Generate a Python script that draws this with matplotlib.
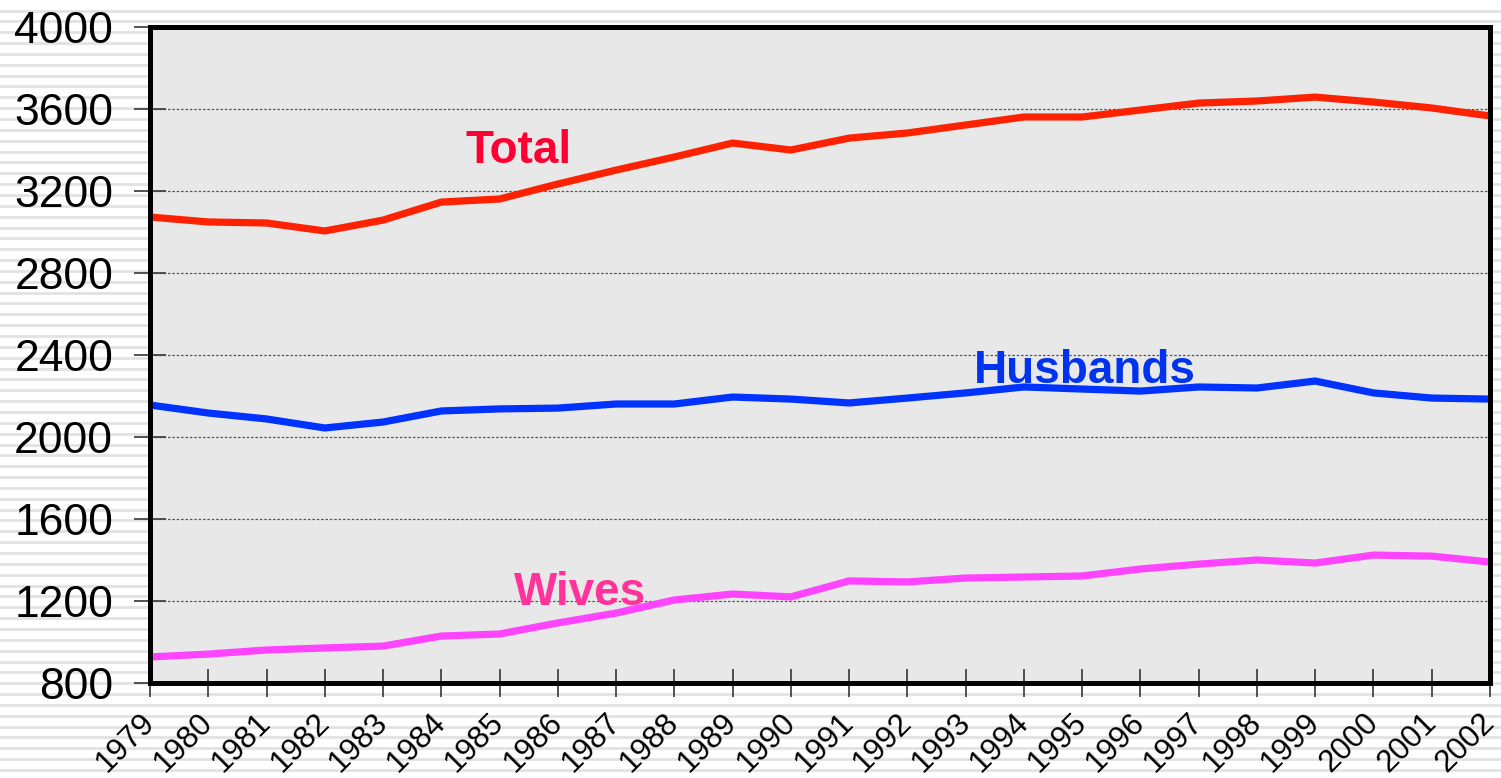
import numpy as np
import matplotlib.pyplot as plt
import matplotlib.transforms as mtransforms
from matplotlib.lines import Line2D

# data
years = list(range(1979, 2003))
total = [3073, 3049, 3044, 3005, 3058, 3146, 3161, 3234, 3302, 3366, 3434, 3400,
         3458, 3483, 3522, 3561, 3561, 3595, 3629, 3639, 3658, 3634, 3605, 3566]
husbands = [2156, 2117, 2088, 2044, 2073, 2127, 2137, 2141, 2161, 2161, 2195, 2185,
            2166, 2190, 2215, 2244, 2234, 2224, 2244, 2239, 2273, 2215, 2190, 2185]
wives = [927, 941, 961, 971, 980, 1029, 1039, 1093, 1141, 1205, 1234, 1220,
         1298, 1293, 1312, 1317, 1322, 1356, 1380, 1400, 1385, 1424, 1419, 1390]
y_ticks = [800, 1200, 1600, 2000, 2400, 2800, 3200, 3600, 4000]

plt.rcParams['font.family'] = ['Liberation Sans', 'DejaVu Sans']

W, H = 1501, 778
fig = plt.figure(figsize=(W / 100, H / 100), dpi=100)

# striped slide background
for yy in np.arange(10.5, H, 10.85):
    fig.add_artist(Line2D([0, 1], [1 - yy / H, 1 - yy / H], transform=fig.transFigure,
                          color='#e2e2e2', lw=2.0, zorder=0))

ax = fig.add_axes([150 / W, (H - 683) / H, 1340 / W, 656 / H])
ax.set_facecolor('#e8e8e8')
ax.set_zorder(1)

ax.plot(years, total, color='#ff2200', lw=5.2, solid_joinstyle='round', solid_capstyle='butt', zorder=3)
ax.plot(years, husbands, color='#0033ff', lw=5.2, solid_joinstyle='round', solid_capstyle='butt', zorder=3)
ax.plot(years, wives, color='#ff44ff', lw=5.2, solid_joinstyle='round', solid_capstyle='butt', zorder=3)

ax.text(1985.33, 3337, 'Total', color='#ff0033', fontsize=33, fontweight='bold',
        ha='center', va='baseline', zorder=4)
ax.text(1995.05, 2263, 'Husbands', color='#0033ee', fontsize=33, fontweight='bold',
        ha='center', va='baseline', zorder=4)
ax.text(1986.38, 1180, 'Wives', color='#ff3399', fontsize=33, fontweight='bold',
        ha='center', va='baseline', zorder=4)

ax.set_xlim(1979, 2002)
ax.set_ylim(800, 4000)
ax.set_yticks(y_ticks)
ax.set_yticklabels([str(v) for v in y_ticks], fontsize=32)
ax.set_xticks(years)
ax.set_xticklabels([str(y) for y in years], fontsize=22.5, rotation=45,
                   ha='right', va='center', rotation_mode='anchor')

# nudge the slanted year labels a little to the left
shift = mtransforms.ScaledTranslation(-3 / 100, 0, fig.dpi_scale_trans)
for lab in ax.get_xticklabels():
    lab.set_transform(lab.get_transform() + shift)

ax.grid(axis='y', color='#555555', lw=0.9, ls=(0, (2, 1.5)))
ax.set_axisbelow(True)

ax.tick_params(axis='y', direction='inout', length=23, width=1.3, color='#444444', pad=15)
ax.tick_params(axis='x', direction='inout', length=20, width=1.3, color='#444444', pad=15.5)

for s in ax.spines.values():
    s.set_linewidth(3.6)
    s.set_color('black')
    s.set_zorder(5)

fig.savefig('out.png', dpi=100)
